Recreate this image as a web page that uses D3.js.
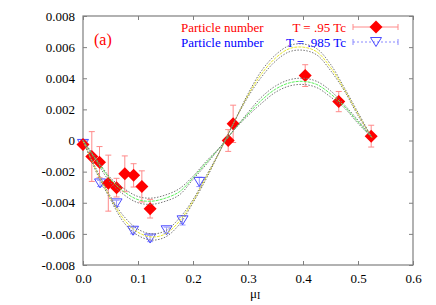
<!DOCTYPE html>
<html>
<head>
<meta charset="utf-8">
<script src="https://cdn.jsdelivr.net/npm/d3@7"></script>
<style>
  body { margin: 0; background: #fff; }
</style>
</head>
<body>
<div id="chart"></div>
<script>
// data points, T = .95 Tc
const redMu = [0, 0.016, 0.030, 0.046, 0.061, 0.076, 0.092, 0.107, 0.122, 0.264, 0.273, 0.404, 0.465, 0.524];
const redN = [-0.00025, -0.00103, -0.00139, -0.00274, -0.00303, -0.00214, -0.00224, -0.00295, -0.00438, 0.0, 0.00107, 0.00417, 0.0025, 0.00028];
const redErr = [0.0002, 0.0016, 0.001, 0.0018, 0.0006, 0.00115, 0.00075, 0.001, 0.0006, 0.0007, 0.0012, 0.0007, 0.00065, 0.0007];

// data points, T = .985 Tc
const blueMu = [0, 0.031, 0.061, 0.091, 0.122, 0.152, 0.181, 0.2115];
const blueN = [-0.00022, -0.00276, -0.00404, -0.0058, -0.0063, -0.00577, -0.00513, -0.00266];
const blueErr = [0.0002, 0.0002, 0.0002, 0.0002, 0.0002, 0.0002, 0.0003, 0.0003];

// fit curves
const fitMu = [0, 0.025, 0.05, 0.075, 0.1, 0.125, 0.15, 0.175, 0.2, 0.225, 0.25, 0.275, 0.3, 0.325, 0.35, 0.375, 0.4, 0.425, 0.45, 0.475, 0.5, 0.525];
const fitRed = [0, -0.0013, -0.0025, -0.0033, -0.0038, -0.0039, -0.0037, -0.0033, -0.0024, -0.0014, -0.0004, 0.0007, 0.0017, 0.0026, 0.0033, 0.0037, 0.0038, 0.0036, 0.0030, 0.0022, 0.0012, 0.0002];
const fitRedHi = [0, -0.0014, -0.0027, -0.0035, -0.0040, -0.0041, -0.0039, -0.0035, -0.0025, -0.0015, -0.0004, 0.0007, 0.0018, 0.0028, 0.0035, 0.0039, 0.0040, 0.0038, 0.0032, 0.0023, 0.0013, 0.0002];
const fitRedLo = [0, -0.0012, -0.0024, -0.0031, -0.0036, -0.0037, -0.0035, -0.0031, -0.0023, -0.0013, -0.0004, 0.0007, 0.0016, 0.0024, 0.0031, 0.0035, 0.0036, 0.0034, 0.0028, 0.0021, 0.0011, 0.0002];
const fitBlue = [0, -0.0020, -0.0037, -0.0051, -0.0059, -0.0062, -0.0060, -0.0052, -0.0039, -0.0023, -0.0006, 0.0012, 0.0029, 0.0043, 0.0053, 0.0059, 0.0060, 0.0057, 0.0047, 0.0033, 0.0017, 0.0002];
const fitBlueHi = [0, -0.0021, -0.0038, -0.0053, -0.0061, -0.0064, -0.0062, -0.0054, -0.0040, -0.0024, -0.0006, 0.0012, 0.0030, 0.0045, 0.0055, 0.0061, 0.0062, 0.0059, 0.0049, 0.0034, 0.0018, 0.0002];
const fitBlueLo = [0, -0.0019, -0.0036, -0.0049, -0.0057, -0.0060, -0.0058, -0.0050, -0.0038, -0.0022, -0.0006, 0.0012, 0.0028, 0.0041, 0.0051, 0.0057, 0.0058, 0.0055, 0.0045, 0.0032, 0.0016, 0.0002];

const xTicks = [0, 0.1, 0.2, 0.3, 0.4, 0.5, 0.6];
const yTicks = [-0.008, -0.006, -0.004, -0.002, 0, 0.002, 0.004, 0.006, 0.008];
const yTickLabels = ["-0.008", "-0.006", "-0.004", "-0.002", "0", "0.002", "0.004", "0.006", "0.008"];

const WIDTH = 436, HEIGHT = 305;
const margin = {left: 83, right: 23, top: 16, bottom: 40};
const FONT = "Liberation Serif";

const svg = d3.select("#chart").append("svg")
  .attr("width", WIDTH)
  .attr("height", HEIGHT);

const x = d3.scaleLinear().domain([0, 0.6]).range([margin.left, WIDTH - margin.right]);
const y = d3.scaleLinear().domain([-0.008, 0.008]).range([HEIGHT - margin.bottom, margin.top]);

const frame = "#7f7f7f";

// ticks (inward, mirrored)
const tl = 4;
const axB = d3.axisBottom(x).tickValues(xTicks).tickSizeInner(-tl).tickSizeOuter(0).tickFormat(d3.format(".1f")).tickPadding(9);
const axT = d3.axisTop(x).tickValues(xTicks).tickSizeInner(-tl).tickSizeOuter(0).tickFormat("");
const axL = d3.axisLeft(y).tickValues(yTicks).tickSizeInner(-tl).tickSizeOuter(0).tickFormat((d, i) => yTickLabels[i]).tickPadding(8);
const axR = d3.axisRight(y).tickValues(yTicks).tickSizeInner(-tl).tickSizeOuter(0).tickFormat("");

function styleAxis(g) {
  g.attr("font-family", null).attr("font-size", null);
  g.select(".domain").remove();
  g.selectAll(".tick line").attr("stroke", frame);
  g.selectAll(".tick text").attr("fill", "#000")
    .style("font-family", FONT).style("font-size", "13px");
}
svg.append("g").attr("transform", `translate(0,${y(-0.008)})`).call(axB).call(styleAxis);
svg.append("g").attr("transform", `translate(0,${y(0.008)})`).call(axT).call(styleAxis);
svg.append("g").attr("transform", `translate(${x(0)},0)`).call(axL).call(styleAxis);
svg.append("g").attr("transform", `translate(${x(0.6)},0)`).call(axR).call(styleAxis);

svg.append("rect")
  .attr("x", x(0)).attr("y", y(0.008))
  .attr("width", x(0.6) - x(0)).attr("height", y(-0.008) - y(0.008))
  .attr("fill", "none").attr("stroke", frame).attr("stroke-width", 1.2);

// error bars
function errBars(mu, val, err, color) {
  const g = svg.append("g").attr("stroke", color).attr("stroke-width", 1);
  mu.forEach((m, i) => {
    const cx = x(m), y0 = y(val[i] - err[i]), y1 = y(val[i] + err[i]);
    g.append("line").attr("x1", cx).attr("x2", cx).attr("y1", y0).attr("y2", y1);
    g.append("line").attr("x1", cx - 3).attr("x2", cx + 3).attr("y1", y0).attr("y2", y0);
    g.append("line").attr("x1", cx - 3).attr("x2", cx + 3).attr("y1", y1).attr("y2", y1);
  });
}
errBars(blueMu, blueN, blueErr, "#9a9aff");
errBars(redMu, redN, redErr, "#ff8a8a");

const triPath = "M-5.5,-4.5L5.5,-4.5L0,4.5Z";
const diaPath = "M0,-6.5L6.5,0L0,6.5L-6.5,0Z";

svg.append("g").selectAll("path")
  .data(blueMu.map((m, i) => [m, blueN[i]]))
  .join("path")
  .attr("d", triPath)
  .attr("transform", d => `translate(${x(d[0])},${y(d[1])})`)
  .attr("fill", "none").attr("stroke", "#4a4aff").attr("stroke-width", 1);

svg.append("g").selectAll("path")
  .data(redMu.map((m, i) => [m, redN[i]]))
  .join("path")
  .attr("d", diaPath)
  .attr("transform", d => `translate(${x(d[0])},${y(d[1])})`)
  .attr("fill", "#ff0000");

// fit curves
const line = d3.line().x(d => x(d[0])).y(d => y(d[1])).curve(d3.curveCatmullRom);
function curve(vals, color, dash) {
  svg.append("path")
    .datum(fitMu.map((m, i) => [m, vals[i]]))
    .attr("d", line)
    .attr("fill", "none").attr("stroke", color).attr("stroke-width", 1)
    .attr("stroke-dasharray", dash);
}
curve(fitRed, "#5cf05c", "3,1");
curve(fitRedHi, "#777", "1.5,1.5");
curve(fitRedLo, "#777", "1.5,1.5");
curve(fitBlue, "#e8e830", "3,1");
curve(fitBlueHi, "#777", "1.5,1.5");
curve(fitBlueLo, "#777", "1.5,1.5");

// labels
svg.append("text").attr("x", 94).attr("y", 45).attr("fill", "#ff0000")
  .style("font-family", FONT).style("font-size", "16px").text("(a)");

const leg = [
  {name: "Particle number", t: "T = .95 Tc", color: "#ff0000", line: "#ff8a8a", dash: null, y: 27},
  {name: "Particle number", t: "T = .985 Tc", color: "#0000ff", line: "#8a8aff", dash: "2,2", y: 42}
];
leg.forEach(l => {
  svg.append("text").attr("x", 181).attr("y", l.y + 4.5).attr("fill", l.color)
    .style("font-family", FONT).style("font-size", "13px").text(l.name);
  svg.append("text").attr("x", 346).attr("y", l.y + 4.5).attr("fill", l.color)
    .attr("text-anchor", "end").style("font-family", FONT).style("font-size", "13px").text(l.t);
  svg.append("line").attr("x1", 353).attr("x2", 398).attr("y1", l.y).attr("y2", l.y)
    .attr("stroke", l.line).attr("stroke-dasharray", l.dash);
  [353, 398].forEach(px => svg.append("line").attr("x1", px).attr("x2", px)
    .attr("y1", l.y - 3).attr("y2", l.y + 3).attr("stroke", l.line));
});
svg.append("path").attr("d", diaPath).attr("transform", "translate(376,27)").attr("fill", "#ff0000");
svg.append("path").attr("d", triPath).attr("transform", "translate(376,42)")
  .attr("fill", "none").attr("stroke", "#4a4aff");

// x axis label
const xl = svg.append("text").attr("x", 250).attr("y", 298)
  .style("font-family", FONT).style("font-size", "13px").attr("fill", "#000");
xl.append("tspan").text("μ");
xl.append("tspan").attr("dy", 1).style("font-size", "10px").text("I");
</script>
</body>
</html>
